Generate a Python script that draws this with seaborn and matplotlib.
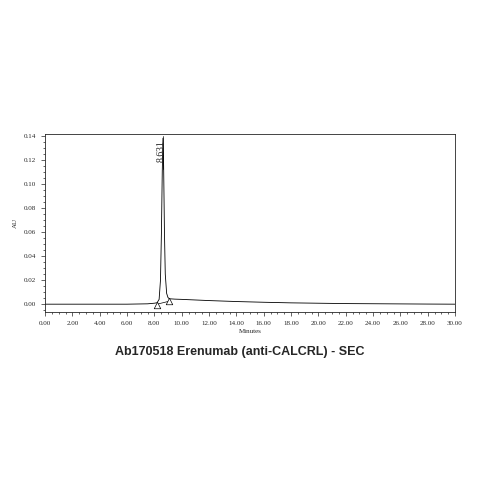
import matplotlib
matplotlib.use("Agg")
import matplotlib.pyplot as plt
import seaborn as sns
import pandas as pd
from matplotlib.ticker import MultipleLocator

time = [0, 2, 4, 6, 7.5, 8.0, 8.2, 8.35, 8.45, 8.52, 8.58, 8.631, 8.68, 8.74, 8.8, 8.9, 9.0, 9.1, 9.5, 10, 11, 12, 14, 16, 18, 20, 22, 25, 28, 30]
au = [0.0, 0.0, 0.0, 0.0, 0.0003, 0.0008, 0.0012, 0.004, 0.02, 0.06, 0.11, 0.138, 0.115, 0.06, 0.025, 0.009, 0.0055, 0.0045, 0.0042, 0.004, 0.0035, 0.003, 0.0022, 0.0016, 0.0011, 0.0008, 0.0005, 0.0003, 0.0001, 0.0]
marker_t = [8.2, 9.1]
marker_y = [-0.001, 0.0025]
peak_t = 8.631
peak_label = "8.631"

sns.set_style("ticks")
plt.rcParams['font.family'] = ['Liberation Serif', 'DejaVu Serif']
fig = plt.figure(figsize=(4.79, 4.79), dpi=100)
ax = fig.add_axes([45/479, 1-312/479, 410/479, 178/479])
df = pd.DataFrame({"t": time, "au": au})
sns.lineplot(data=df, x="t", y="au", ax=ax, color="black", linewidth=0.6)
ax.plot([marker_t[0], marker_t[1]], [marker_y[0]+0.001, marker_y[1]], color="black", lw=0.5)
ax.scatter(marker_t, marker_y, marker="^", s=22, facecolors="white", edgecolors="black", linewidths=0.5, zorder=3)
ax.plot([peak_t, peak_t], [0.112, 0.14], color="black", lw=0.5)
ax.text(peak_t - 0.15, 0.127, peak_label, rotation=90, ha="center", va="center", fontsize=7)
ax.set_xlim(0, 30)
ax.set_ylim(-0.0065, 0.1415)
ax.xaxis.set_major_locator(MultipleLocator(2))
ax.xaxis.set_minor_locator(MultipleLocator(0.5))
ax.yaxis.set_major_locator(MultipleLocator(0.02))
ax.yaxis.set_minor_locator(MultipleLocator(0.005))
ax.set_xticklabels([f"{v:.2f}" for v in ax.get_xticks()])
ax.set_yticklabels([f"{v:.2f}" for v in ax.get_yticks()])
ax.tick_params(labelsize=5, length=3, width=0.5, direction="out")
ax.tick_params(which="minor", length=1.5, width=0.5)
for s in ax.spines.values():
    s.set_linewidth(0.6)
ax.set_xlabel("Minutes", fontsize=5, labelpad=2)
ax.set_ylabel("AU", fontsize=5, labelpad=4)
fig.text(0.5, 1-352/479, "Ab170518 Erenumab (anti-CALCRL) - SEC", ha="center", va="center",
         fontsize=9, fontweight="bold", family="Liberation Sans")
fig.savefig("out.png", dpi=100)
